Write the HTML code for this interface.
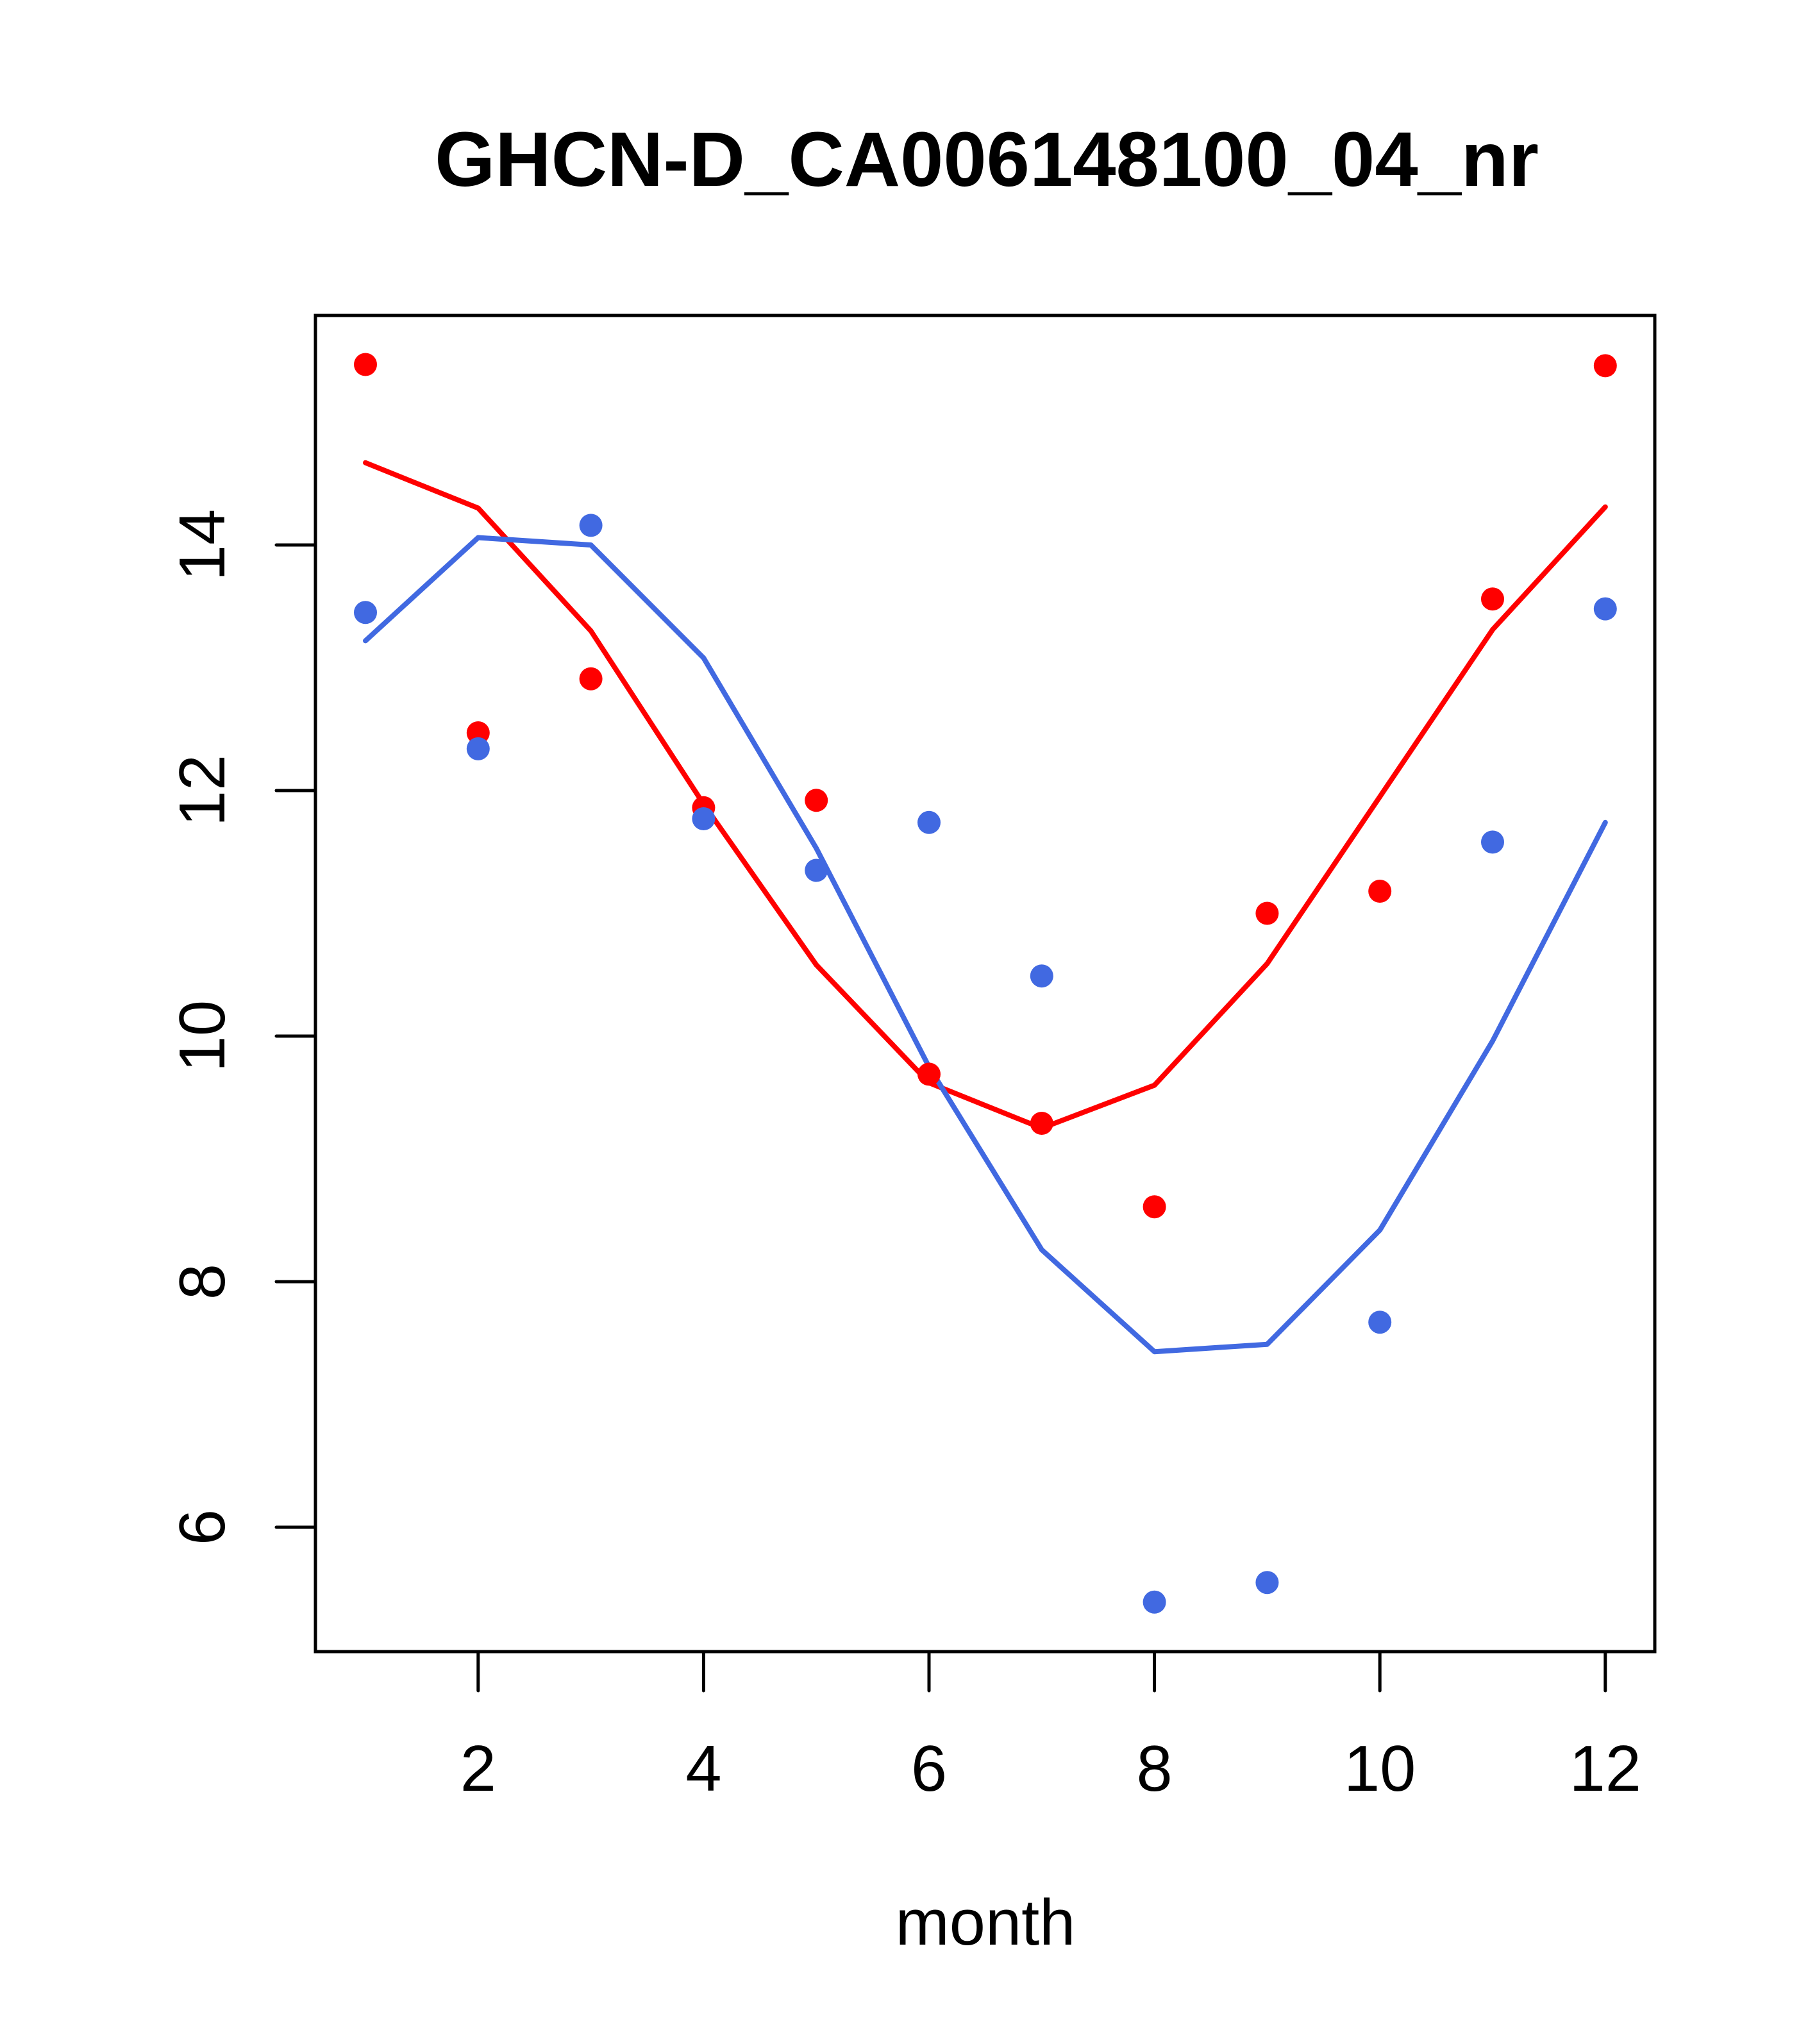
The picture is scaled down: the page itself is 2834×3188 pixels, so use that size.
<!DOCTYPE html>
<html>
<head>
<meta charset="utf-8">
<style>
html,body{margin:0;padding:0;background:#fff;}
svg{display:block;}
text{font-family:"Liberation Sans",Arial,sans-serif;fill:#000;}
</style>
</head>
<body>
<svg id="chart" width="2834" height="3188" viewBox="0 0 2834 3188" xmlns="http://www.w3.org/2000/svg">
<rect width="2834" height="3188" fill="#fff"/>
<text x="1539" y="290" font-size="121" font-weight="bold" text-anchor="middle">GHCN-D_CA006148100_04_nr</text>
<text x="1537" y="3033" font-size="101" text-anchor="middle">month</text>
<g id="marks"></g>
<g id="axes"></g>
<rect x="492" y="492" width="2089" height="2084" fill="none" stroke="#000" stroke-width="5"/>
</svg>
<script>
const months = [1,2,3,4,5,6,7,8,9,10,11,12];
const redPoints = [15.47,12.47,12.91,11.86,11.92,9.69,9.29,8.61,11.0,11.18,13.56,15.46];
const redLine = [14.67,14.30,13.30,11.89,10.58,9.62,9.25,9.60,10.59,11.95,13.31,14.31];
const bluePoints = [13.45,12.34,14.16,11.77,11.35,11.74,10.49,5.39,5.55,7.67,11.58,13.48];
const blueLine = [13.22,14.06,14.0,13.08,11.53,9.75,8.26,7.43,7.49,8.42,9.96,11.74];
const xTicks = [2,4,6,8,10,12];
const yTicks = [6,8,10,12,14];

const NS = "http://www.w3.org/2000/svg";
function xs(v){ return 570 + (v-1)*175.8; }
function ys(v){ return 850 + (14-v)*191.5; }
const marks = document.getElementById('marks');
const axes = document.getElementById('axes');

function mk(tag, attrs, parent){
  const e = document.createElementNS(NS, tag);
  for (const k in attrs) e.setAttribute(k, attrs[k]);
  parent.appendChild(e);
  return e;
}

function drawLine(vals, color, name){
  const d = vals.map((v,i)=>(i?'L':'M')+xs(months[i]).toFixed(1)+','+ys(v).toFixed(1)).join(' ');
  const p = mk('path', {d:d, fill:'none', stroke:color, 'stroke-width':8, 'stroke-linejoin':'round', 'stroke-linecap':'round'}, marks);
  
  
}
function drawPoints(vals, color, name){
  vals.forEach((v,i)=>{
    const c = mk('circle', {cx:xs(months[i]).toFixed(1), cy:ys(v).toFixed(1), r:18, fill:color}, marks);
    
    
  });
}
drawLine(redLine, '#ff0000', 'red-line');
drawLine(blueLine, '#4169e1', 'blue-line');
drawPoints(redPoints, '#ff0000', 'red-point');
drawPoints(bluePoints, '#4169e1', 'blue-point');

xTicks.forEach(t=>{
  const x = xs(t);
  const l = mk('line', {x1:x, y1:2576, x2:x, y2:2637, stroke:'#000', 'stroke-width':5, 'stroke-linecap':'round'}, axes);
  
  
  const tx = mk('text', {x:x, y:2793, 'font-size':101, 'text-anchor':'middle'}, axes);
  tx.textContent = t;
  
  
});
yTicks.forEach(t=>{
  const y = ys(t);
  const l = mk('line', {x1:431, y1:y, x2:492, y2:y, stroke:'#000', 'stroke-width':5, 'stroke-linecap':'round'}, axes);
  
  
  const tx = mk('text', {x:0, y:0, 'font-size':101, 'text-anchor':'middle', transform:'translate(350,'+y+') rotate(-90)'}, axes);
  tx.textContent = t;
  
  
});
</script>
</body>
</html>
